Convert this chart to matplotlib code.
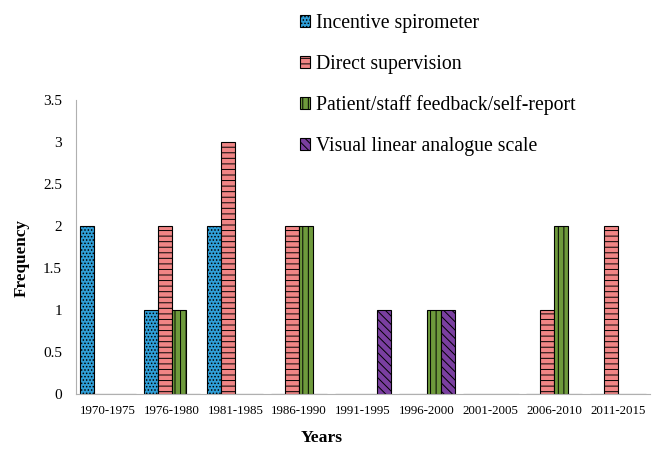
import numpy as np
import matplotlib
matplotlib.use("Agg")
import matplotlib.pyplot as plt

plt.rcParams['font.family'] = ['Liberation Serif', 'DejaVu Serif']
plt.rcParams['hatch.linewidth'] = 0.7

# data
years = ['1970-1975', '1976-1980', '1981-1985', '1986-1990', '1991-1995',
         '1996-2000', '2001-2005', '2006-2010', '2011-2015']
incentive = [2, 1, 2, 0, 0, 0, 0, 0, 0]
direct = [0, 2, 3, 2, 0, 0, 0, 1, 2]
feedback = [0, 1, 0, 2, 0, 1, 0, 2, 0]
visual = [0, 0, 0, 0, 1, 1, 0, 0, 0]

names = ['Incentive spirometer', 'Direct supervision',
         'Patient/staff feedback/self-report', 'Visual linear analogue scale']
colors = ['#2f9fd8', '#f08585', '#6e9a3c', '#7a3fa0']
hatches = ['.....', '---', '|||', '\\\\\\\\']

fig = plt.figure(figsize=(6.6, 4.55), dpi=100)
ax = fig.add_axes([0.115, 0.134, 0.870, 0.646])

x = np.arange(len(years))
w = 0.22
series = [incentive, direct, feedback, visual]
handles = []
for i, vals in enumerate(series):
    b = ax.bar(x + (i - 1.5) * w, vals, w, color=colors[i], edgecolor='black',
               hatch=hatches[i], linewidth=0.8, label=names[i])
    handles.append(b)

ax.set_xlim(-0.5, len(years) - 0.5)
ax.set_ylim(0, 3.5)
ax.set_yticks(np.arange(0, 3.51, 0.5))
ax.set_yticklabels(['0', '0.5', '1', '1.5', '2', '2.5', '3', '3.5'])
ax.set_xticks(x)
ax.set_xticklabels(years)
ax.tick_params(axis='both', length=0)
ax.tick_params(axis='y', pad=10, labelsize=11)
ax.tick_params(axis='x', pad=8, labelsize=9.3)
for s in ['top', 'right']:
    ax.spines[s].set_visible(False)
ax.spines['left'].set_color('#b0b0b0')
ax.spines['bottom'].set_color('#b0b0b0')

fig.text(0.033, 0.433, 'Frequency', rotation=90, ha='center', va='center',
         fontsize=12.3, fontweight='bold')
fig.text(0.488, 0.037, 'Years', ha='center', va='center',
         fontsize=12.6, fontweight='bold')

fig.legend(handles=handles, labels=names, loc='upper left',
           bbox_to_anchor=(0.427, 1.008), frameon=False, fontsize=14.2,
           handlelength=0.55, handleheight=0.55, handletextpad=0.3,
           labelspacing=1.1)

fig.savefig('out.png', dpi=100)
